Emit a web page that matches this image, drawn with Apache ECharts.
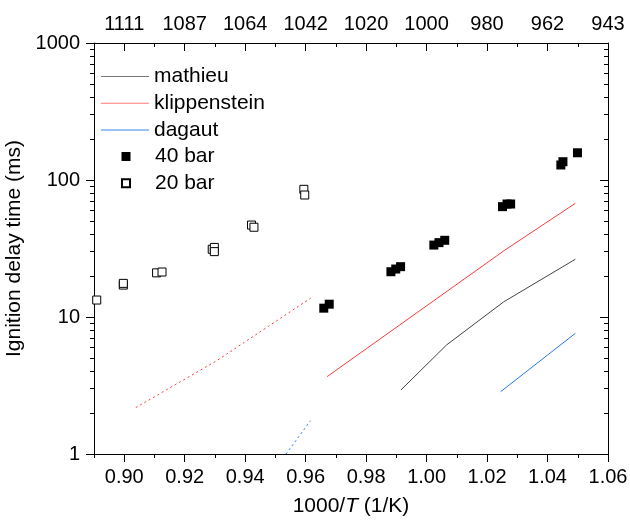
<!DOCTYPE html>
<html>
<head>
<meta charset="utf-8">
<script src="https://cdn.jsdelivr.net/npm/echarts@6/dist/echarts.min.js"></script>
<style>
html,body{margin:0;padding:0;background:#fff;}
#chart{width:630px;height:525px;}
</style>
</head>
<body>
<div id="chart"></div>
<script>
// ---- data ----
const xMajorTicks = [0.90, 0.92, 0.94, 0.96, 0.98, 1.00, 1.02, 1.04, 1.06];
const xMinorTicks = [0.89, 0.91, 0.93, 0.95, 0.97, 0.99, 1.01, 1.03, 1.05];
const topTickLabels = ['1111', '1087', '1064', '1042', '1020', '1000', '980', '962', '943'];
const yMajorTicks = [1, 10, 100, 1000];
const yMinorTicks = [2,3,4,5,6,7,8,9,20,30,40,50,60,70,80,90,200,300,400,500,600,700,800,900];

const mathieuX = [0.9915, 1.0066, 1.0255, 1.0492];
const mathieuY = [2.93, 6.25, 12.9, 26.4];
const klippensteinX = [0.9671, 1.0259, 1.0492];
const klippensteinY = [3.67, 30.8, 67.6];
const klippenstein20X = [0.9038, 0.9306, 0.9616];
const klippenstein20Y = [2.18, 4.8, 13.7];
const dagautX = [1.0245, 1.0492];
const dagautY = [2.85, 7.6];
const dagaut20X = [0.9535, 0.9616];
const dagaut20Y = [1.0, 1.75];

const bar40X = [0.9660, 0.9678, 0.9882, 0.9898, 0.9914, 1.0024, 1.0041, 1.0060, 1.0251, 1.0266, 1.0278, 1.0444, 1.0451, 1.0499];
const bar40Y = [11.6, 12.4, 21.4, 22.4, 23.3, 33.5, 34.9, 36.3, 63.9, 66.8, 66.8, 128.7, 136.0, 158];
const bar20X = [0.8909, 0.8997, 0.8997, 0.9107, 0.9125, 0.9291, 0.9298, 0.9298, 0.9421, 0.9429, 0.9594, 0.9597];
const bar20Y = [13.3, 17.1, 17.6, 21.0, 21.3, 31.2, 32.2, 30.0, 46.9, 45.2, 85.5, 77.7];

function zip(xs, ys) { return xs.map((x, i) => [x, ys[i]]); }

const FONT = 'Arial, "Liberation Sans", sans-serif';
const chart = echarts.init(document.getElementById('chart'), null, {renderer: 'canvas'});

function xAxisDef(pos, ticks, len, inside, labels, extra) {
  return Object.assign({
    type: 'value', min: 0.89, max: 1.06, position: pos,
    axisLine: {show: true, lineStyle: {color: '#000', width: 1}},
    axisTick: {show: true, inside: inside, length: len, customValues: ticks, lineStyle: {color: '#000', width: 1}},
    axisLabel: labels,
    splitLine: {show: false}
  }, extra || {});
}
function yAxisDef(pos, ticks, len, inside, labels, extra) {
  return Object.assign({
    type: 'log', logBase: 10, min: 1, max: 1000, position: pos,
    axisLine: {show: true, lineStyle: {color: '#000', width: 1}},
    axisTick: {show: true, inside: inside, length: len, customValues: ticks, lineStyle: {color: '#000', width: 1}},
    axisLabel: labels,
    splitLine: {show: false}
  }, extra || {});
}

const legendText = {fontSize: 21, color: '#000', lineHeight: 21, fontFamily: FONT};
// square centred in a 48 x 9 icon box (the leading moves only fix the box extent)
const filledSquareIcon = 'path://M0,0M48,9M19.5,0L28.5,0L28.5,9L19.5,9Z';
const openSquareIcon = 'path://M0,0M48,9M20,0.5L28,0.5L28,8.5L20,8.5Z';

const option = {
  animation: false,
  backgroundColor: '#fff',
  textStyle: {fontFamily: FONT},
  grid: {left: 94, right: 22, top: 43, bottom: 71, containLabel: false, outerBoundsMode: 'none'},
  legend: [
    {
      data: [{name: 'mathieu', icon: 'rect'}, {name: 'klippenstein', icon: 'rect'}, {name: 'dagaut', icon: 'rect'}],
      orient: 'vertical', left: 101, top: 66, padding: 0,
      itemWidth: 48, itemHeight: 1, itemGap: 5.8, symbolKeepAspect: false,
      textStyle: legendText,
      selectedMode: false
    },
    {
      data: [{name: '40 bar', icon: filledSquareIcon}, {name: '20 bar', icon: openSquareIcon}],
      orient: 'vertical', left: 101, top: 146, padding: 0,
      itemWidth: 48, itemHeight: 9, itemGap: 5.8, symbolKeepAspect: false,
      textStyle: legendText,
      selectedMode: false
    }
  ],
  xAxis: [
    xAxisDef('bottom', xMajorTicks, 8, false, {
      show: true, customValues: xMajorTicks, fontSize: 20, color: '#000', margin: 13,
      formatter: v => v.toFixed(2)
    }, {
      name: '1000/{i|T} (1/K)', nameLocation: 'middle', nameGap: 42,
      nameTextStyle: {fontSize: 21, color: '#000', rich: {i: {fontSize: 21, fontStyle: 'italic', color: '#000'}}}
    }),
    xAxisDef('bottom', xMinorTicks, 4, false, {show: false}, {axisLine: {show: false}}),
    xAxisDef('top', xMajorTicks, 8, true, {
      show: true, customValues: xMajorTicks, fontSize: 20, color: '#000', margin: 9,
      formatter: v => {
        const i = xMajorTicks.findIndex(t => Math.abs(t - v) < 1e-6);
        return i >= 0 ? topTickLabels[i] : '';
      }
    }),
    xAxisDef('top', xMinorTicks, 4, true, {show: false}, {axisLine: {show: false}})
  ],
  yAxis: [
    yAxisDef('left', yMajorTicks, 8, false, {
      show: true, customValues: yMajorTicks, fontSize: 20, color: '#000', margin: 14,
      formatter: v => String(Math.round(v))
    }, {
      name: 'Ignition delay time (ms)', nameLocation: 'middle', nameGap: 56,
      nameTextStyle: {fontSize: 21, color: '#000'}
    }),
    yAxisDef('left', yMinorTicks, 4, false, {show: false}, {axisLine: {show: false}}),
    yAxisDef('right', yMajorTicks, 8, true, {show: false}),
    yAxisDef('right', yMinorTicks, 4, true, {show: false}, {axisLine: {show: false}})
  ],
  series: [
    {name: 'mathieu', type: 'line', data: zip(mathieuX, mathieuY), symbol: 'none', showSymbol: false,
     lineStyle: {color: '#444', width: 1}, itemStyle: {color: '#777'}, z: 2},
    {name: 'klippenstein', type: 'line', data: zip(klippensteinX, klippensteinY), symbol: 'none', showSymbol: false,
     lineStyle: {color: '#ff3b3b', width: 1}, itemStyle: {color: '#ff7a7a'}, z: 2},
    {name: 'dagaut', type: 'line', data: zip(dagautX, dagautY), symbol: 'none', showSymbol: false,
     lineStyle: {color: '#2a78e4', width: 1}, itemStyle: {color: '#3a84e8'}, z: 2},
    {name: 'klippenstein 20 bar', type: 'line', data: zip(klippenstein20X, klippenstein20Y), symbol: 'none', showSymbol: false,
     lineStyle: {color: '#ff3b3b', width: 1, type: [2, 3]}, itemStyle: {color: '#ff3b3b'}, z: 2},
    {name: 'dagaut 20 bar', type: 'line', data: zip(dagaut20X, dagaut20Y), symbol: 'none', showSymbol: false,
     lineStyle: {color: '#2a78e4', width: 1, type: [2, 3]}, itemStyle: {color: '#2a78e4'}, z: 2},
    {name: '40 bar', type: 'scatter', data: zip(bar40X, bar40Y), symbol: 'rect', symbolSize: 9,
     itemStyle: {color: '#000', opacity: 1}, z: 3},
    {name: '20 bar', type: 'scatter', data: zip(bar20X, bar20Y), symbol: 'rect', symbolSize: 8,
     itemStyle: {color: '#fff', borderColor: '#000', borderWidth: 1, opacity: 1}, z: 3}
  ]
};
chart.setOption(option);
</script>
</body>
</html>
